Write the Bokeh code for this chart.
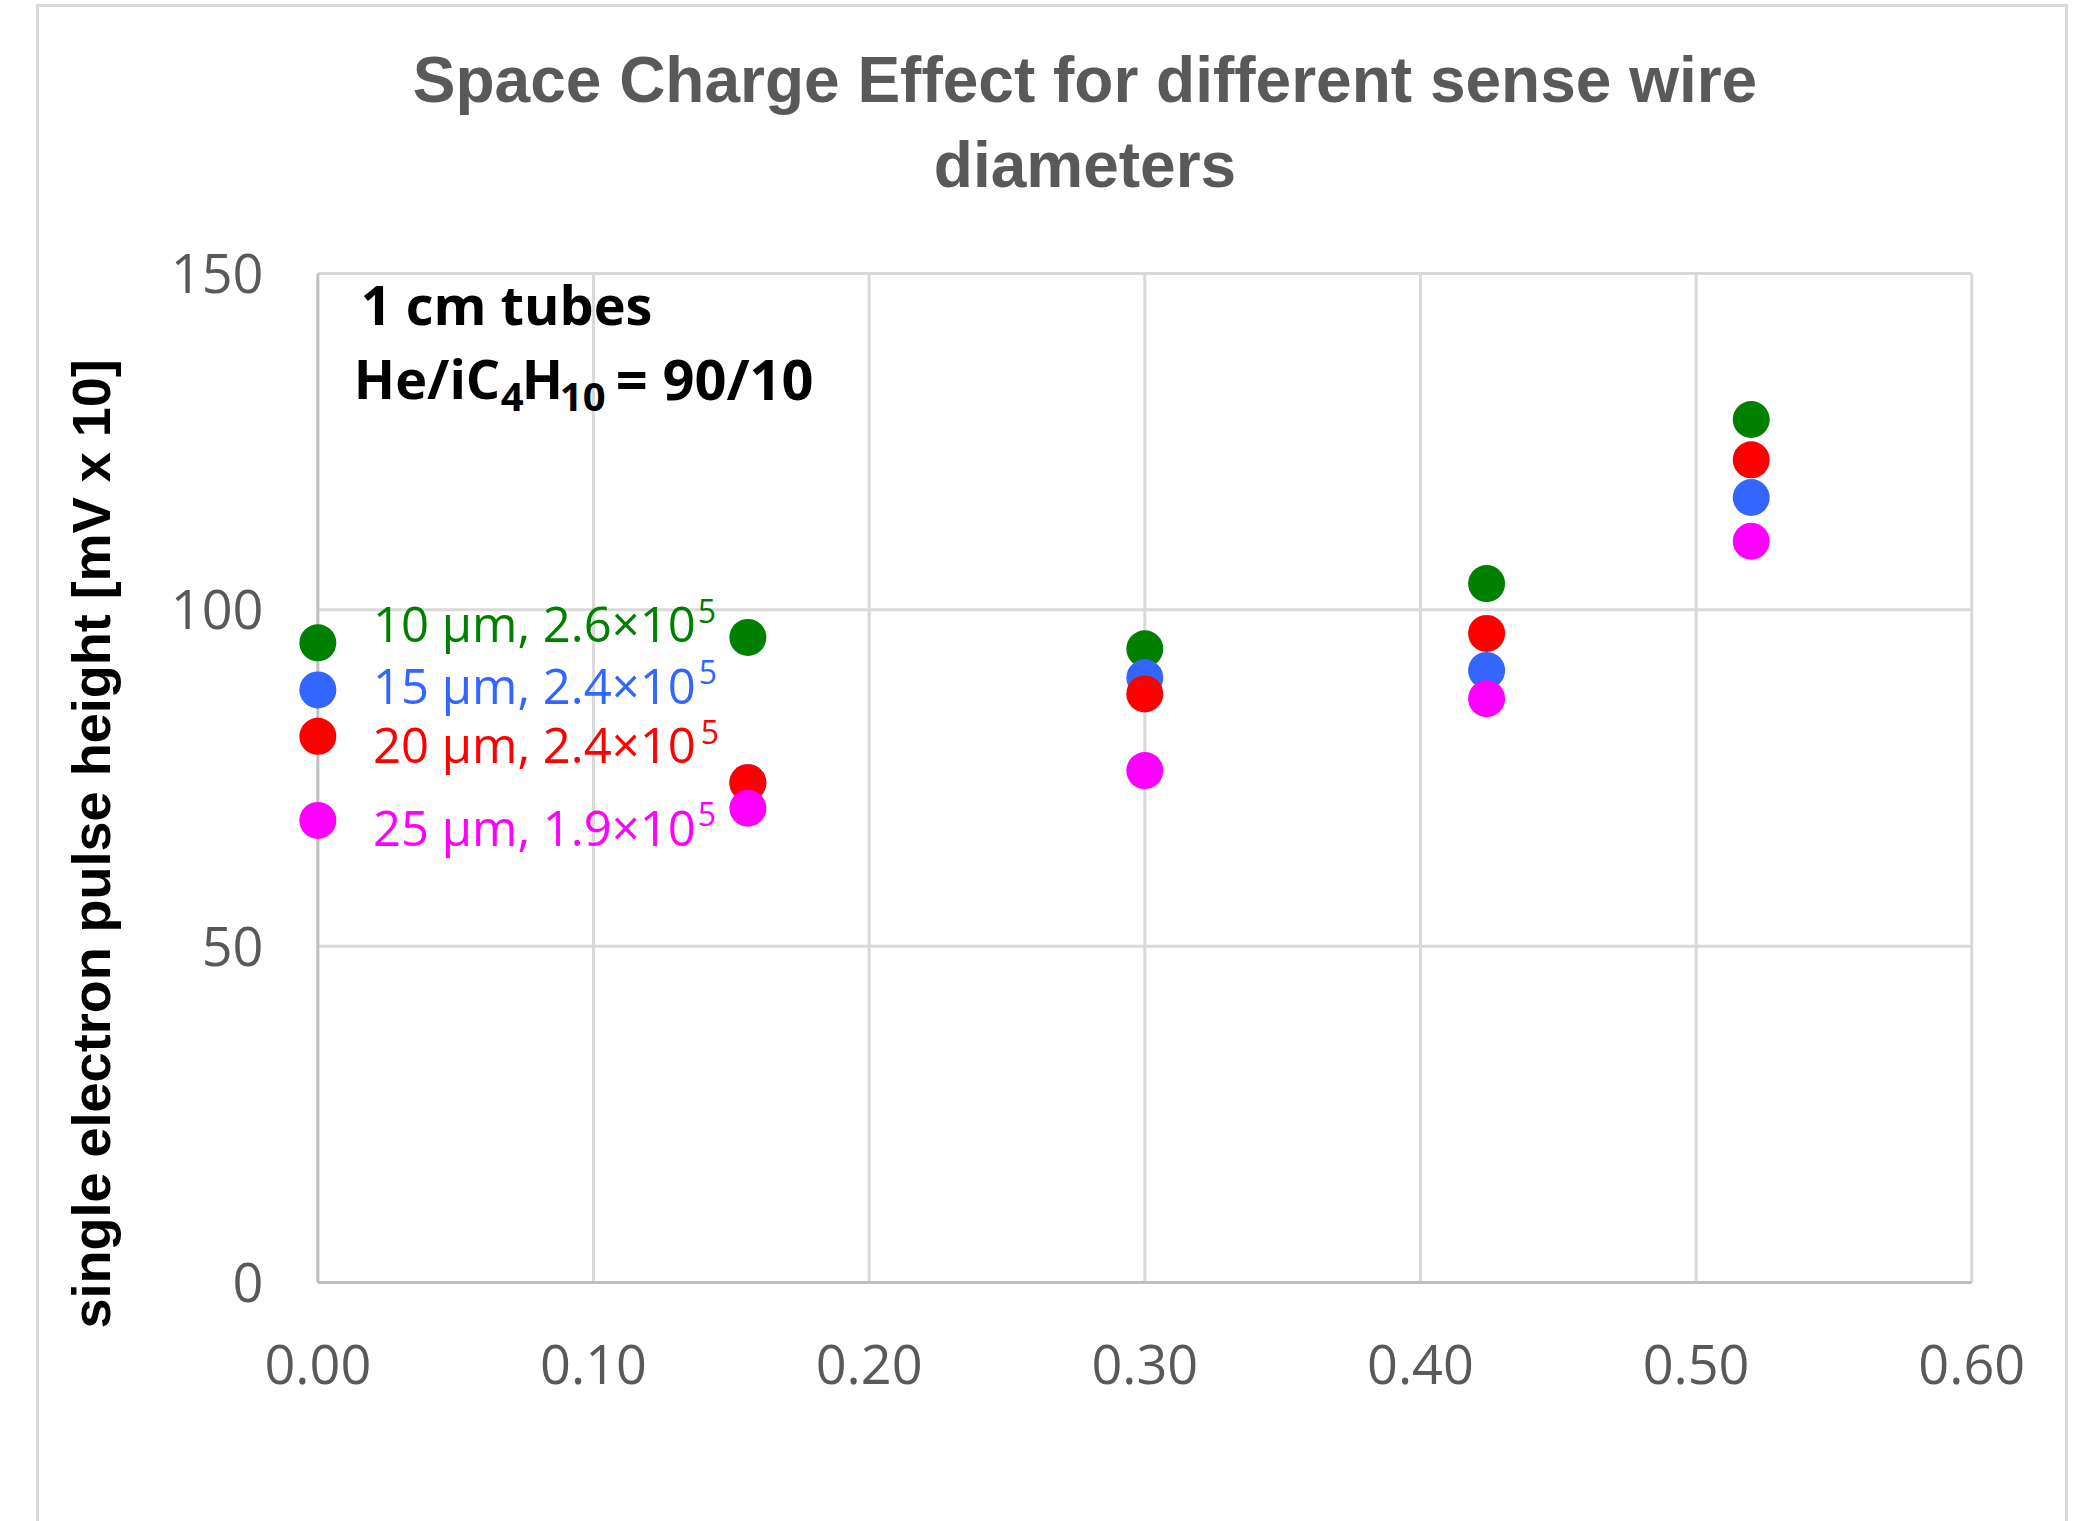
from bokeh.core.properties import value
from bokeh.embed import file_html
from bokeh.layouts import column
from bokeh.models import (ColumnDataSource, Div, FixedTicker, Label,
                          NumeralTickFormatter, Range1d, Title)
from bokeh.plotting import figure
from bokeh.resources import INLINE

# ---- data -------------------------------------------------------------
x_pos = [0.0, 0.156, 0.30, 0.424, 0.52]

ph_10um = [95.1, 95.9, 94.2, 103.9, 128.3]
ph_15um = [88.1, 74.3, 89.9, 91.0, 116.7]
ph_20um = [81.2, 74.3, 87.5, 96.5, 122.3]
ph_25um = [68.7, 70.5, 76.1, 86.8, 110.2]

wire_diam = ["10", "15", "20", "25"]
gas_gain = ["2.6", "2.4", "2.4", "1.9"]
series_colors = ["#008000", "#3366ff", "#ff0000", "#ff00ff"]

x_ticks = [0.0, 0.1, 0.2, 0.3, 0.4, 0.5, 0.6]
y_ticks = [0, 50, 100, 150]
x_lo, x_hi = x_ticks[0], x_ticks[-1]
y_lo, y_hi = y_ticks[0], y_ticks[-1]

title_lines = ["Space Charge Effect for different sense wire", "diameters"]

# ---- title block --------------------------------------------------------
title_div = Div(
    text=(
        '<div style="margin-left:185px;width:1800px;padding-top:38px;'
        "text-align:center;white-space:nowrap;font-family:'Liberation Sans';"
        'font-weight:bold;font-size:64px;line-height:85px;color:#595959;">'
        + "<br>".join(title_lines) + "</div>"
    ),
    width=2090, height=200, margin=0,
)

# ---- figure -----------------------------------------------------------
# the ranges are padded a little so that markers on the x = 0 axis and the
# outer grid lines are not cut in half by the frame
p = figure(
    width=2090, height=1321,
    x_range=Range1d(-0.015, 0.601), y_range=Range1d(-0.3, 150.3),
    output_backend="svg", toolbar_location=None,
    min_border_left=276, min_border_right=116,
    min_border_top=71, min_border_bottom=237,
)
p.border_fill_color = None
p.background_fill_color = "white"
p.outline_line_color = None

p.xaxis.ticker = FixedTicker(ticks=x_ticks)
p.yaxis.ticker = FixedTicker(ticks=y_ticks)
p.xaxis.formatter = NumeralTickFormatter(format="0.00")

for ax in (p.xaxis, p.yaxis):
    ax.axis_line_color = None
    ax.major_tick_line_color = None
    ax.minor_tick_line_color = None
    ax.major_label_text_font = "Open Sans"
    ax.major_label_text_font_size = "54px"
    ax.major_label_text_color = "#595959"
p.xaxis.major_label_standoff = 54
p.yaxis.major_label_standoff = 7

p.grid.visible = False

# grid lines and axis lines spanning exactly the tick range
p.segment(x0=[x_lo] * 3, x1=[x_hi] * 3, y0=y_ticks[1:], y1=y_ticks[1:],
          line_color="#d9d9d9", line_width=3)
p.segment(x0=x_ticks[1:], x1=x_ticks[1:], y0=[y_lo] * 6, y1=[y_hi] * 6,
          line_color="#d9d9d9", line_width=3)
p.segment(x0=[x_lo, x_lo], x1=[x_lo, x_hi], y0=[y_lo, y_lo], y1=[y_hi, y_lo],
          line_color="#bfbfbf", line_width=3)

# ---- points -----------------------------------------------------------
for ys, col in zip([ph_10um, ph_15um, ph_20um, ph_25um], series_colors):
    src = ColumnDataSource(dict(x=x_pos, y=ys))
    p.scatter("x", "y", source=src, size=37, fill_color=col, line_color=None)

# ---- series captions ---------------------------------------------------
cap_x = [0.020, 0.020, 0.020, 0.020]
cap_y = [98.1, 88.9, 80.0, 67.7]
sup_x = [0.1378, 0.1382, 0.1389, 0.1378]
sup_y = [99.9, 90.7, 81.8, 69.7]

cap_src = ColumnDataSource(dict(
    x=cap_x, y=cap_y, color=series_colors,
    text=[f"{d} \u00b5m, {g}\u00d710" for d, g in zip(wire_diam, gas_gain)],
))
p.text("x", "y", text="text", source=cap_src, text_color="color",
       text_font=value("Open Sans"), text_font_size="49px",
       text_align="left", text_baseline="alphabetic")

sup_src = ColumnDataSource(dict(x=sup_x, y=sup_y, color=series_colors,
                                text=["5"] * 4))
p.text("x", "y", text="text", source=sup_src, text_color="color",
       text_font=value("Open Sans"), text_font_size="32px",
       text_align="left", text_baseline="alphabetic")

# ---- conditions box text ----------------------------------------------
def note(x, y, text, size):
    p.add_layout(Label(x=x, y=y, text=text, text_font="Open Sans",
                       text_font_style="bold", text_font_size=size,
                       text_color="black", text_align="left",
                       text_baseline="alphabetic"))

note(0.0156, 145.4, "1 cm tubes", "54px")
note(0.01306, 134.4, "He/iC", "54px")
note(0.06638, 131.7, "4", "40px")
note(0.07399, 134.4, "H", "54px")
note(0.08778, 131.6, "10", "40px")
note(0.1081, 134.4, "= 90/10", "56px")

# ---- vertical axis title, set outside the tick labels -------------------
p.add_layout(Title(text="single electron pulse height [mV x 10]",
                   align="left", offset=-44, standoff=93,
                   text_font="Liberation Sans", text_font_style="bold",
                   text_font_size="54px", text_color="black"), "left")

# thin grey frame around the whole chart area
grey = "linear-gradient(#d9d9d9, #d9d9d9)"
page = column(title_div, p, spacing=0, styles={
    "background-color": "white",
    "background-image": f"{grey}, {grey}, {grey}",
    "background-size": "3px 100%, 2032px 3px, 3px 100%",
    "background-position": "36px 4px, 36px 4px, 2065px 4px",
    "background-repeat": "no-repeat",
})

open("out.html", "w").write(file_html(page, INLINE))
